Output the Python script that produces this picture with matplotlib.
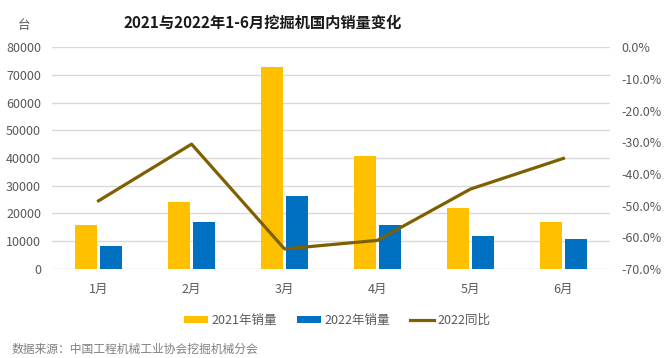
import matplotlib.pyplot as plt
import numpy as np

plt.rcParams['font.family'] = ['Noto Sans CJK SC', 'DejaVu Sans']

months = ['1月', '2月', '3月', '4月', '5月', '6月']
sales_2021 = [15900, 24300, 72800, 40800, 21800, 16900]
sales_2022 = [8100, 16900, 26400, 15900, 12000, 10800]
yoy_2022 = [-48.5, -30.6, -63.7, -61.0, -44.8, -35.1]

grey = '#595959'
fig = plt.figure(figsize=(6.68, 3.58), dpi=100)
ax = fig.add_axes([0.078, 0.249, 0.835, 0.619])
ax2 = ax.twinx()

x = np.arange(len(months))
w = 0.23
b1 = ax.bar(x - 0.135, sales_2021, w, color='#FFC000', label='2021年销量', zorder=2)
b2 = ax.bar(x + 0.135, sales_2022, w, color='#0070C0', label='2022年销量', zorder=2)
l1, = ax2.plot(x, yoy_2022, color='#7F6000', lw=2.3, label='2022同比')

ax.set_xlim(-0.5, 5.5)
ax.set_ylim(0, 80000)
ax.set_yticks(range(0, 80001, 10000))
ax.set_xticks(x)
ax.set_xticklabels(months)
ax.grid(axis='y', color='#d9d9d9', lw=1, zorder=0)
ax2.set_ylim(-70, 0)
ax2.set_yticks(range(-70, 1, 10))
ax2.set_yticklabels(['%.1f%%' % v for v in range(-70, 1, 10)])

for a in (ax, ax2):
    for s in a.spines.values():
        s.set_visible(False)
    a.tick_params(length=0, labelsize=9, colors=grey)
ax.tick_params(axis='y', pad=8)
ax.tick_params(axis='x', pad=10)
ax2.tick_params(axis='y', pad=8)

fig.text(0.393, 0.935, '2021与2022年1-6月挖掘机国内销量变化', ha='center', va='center',
         fontsize=11, fontweight='bold', color='#1a1a1a')
fig.text(0.036, 0.928, '台', ha='center', va='center', fontsize=9, color=grey)
fig.text(0.018, 0.025, '数据来源：中国工程机械工业协会挖掘机械分会', ha='left', va='center',
         fontsize=8.5, color='#808080')

fig.legend(handles=[b1, b2, l1], loc='center', bbox_to_anchor=(0.505, 0.105), ncol=3,
           frameon=False, fontsize=9, handlelength=1.9, handleheight=0.5,
           columnspacing=1.6, handletextpad=0.3, labelcolor=grey)

fig.savefig('out.png', dpi=100)
